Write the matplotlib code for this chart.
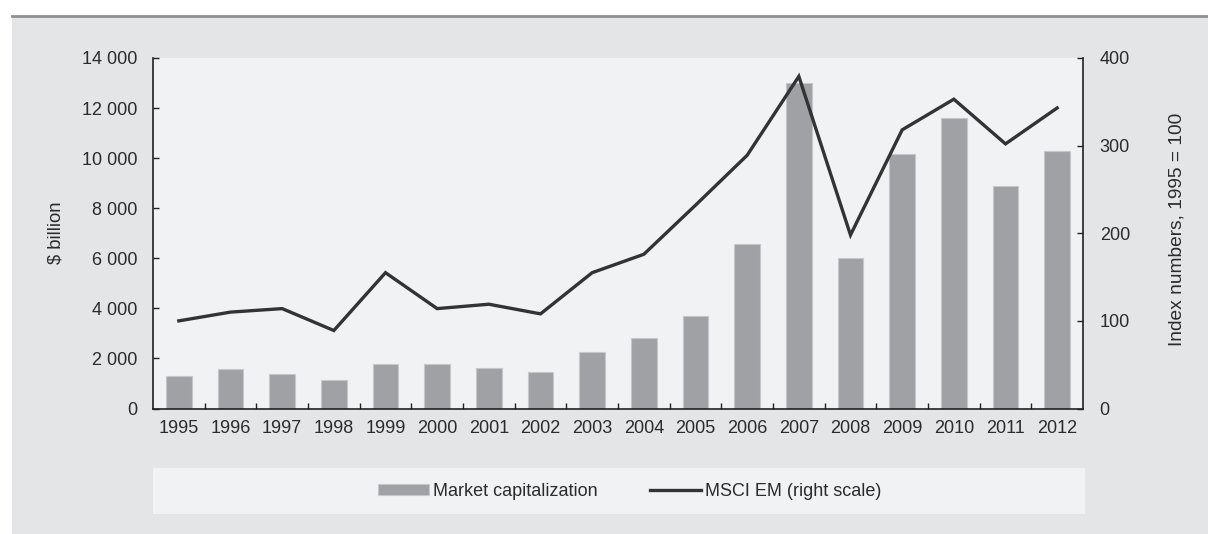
import matplotlib
matplotlib.use("Agg")
import matplotlib.pyplot as plt
from matplotlib.patches import Rectangle
from matplotlib.lines import Line2D
from matplotlib.ticker import FuncFormatter, MultipleLocator

years = [1995, 1996, 1997, 1998, 1999, 2000, 2001, 2002, 2003,
         2004, 2005, 2006, 2007, 2008, 2009, 2010, 2011, 2012]
market_cap = [1310, 1570, 1390, 1150, 1790, 1790, 1630, 1470, 2270,
              2830, 3710, 6580, 13000, 6030, 10180, 11620, 8900, 10270]
msci_em = [100, 110, 114, 89, 155, 114, 119, 108, 155,
           176, 232, 289, 379, 198, 318, 353, 302, 343]

W, H = 1208, 534
BG = "#e4e5e7"
PANEL = "#f1f2f4"
BAR = "#a0a1a4"
LINE = "#333333"
TXT = "#2b2b2b"

plt.rcParams["font.family"] = ["Liberation Sans", "DejaVu Sans"]
plt.rcParams["font.size"] = 13

fig = plt.figure(figsize=(W / 100, H / 100), dpi=100)
fig.patch.set_facecolor("white")


def px_rect(x0, y0, x1, y1, color, z=0):
    # pixel box (top-left origin) -> figure fraction
    fig.add_artist(Rectangle((x0 / W, 1 - y1 / H), (x1 - x0) / W, (y1 - y0) / H,
                             transform=fig.transFigure, facecolor=color,
                             edgecolor="none", zorder=z))


px_rect(12, 16, W, H, BG)
fig.add_artist(Line2D([12 / W, 1], [1 - 16 / H, 1 - 16 / H], transform=fig.transFigure,
                      color="#8e8e8e", lw=2))
px_rect(153, 468, 1085, 514, PANEL)

ax = fig.add_axes([153 / W, 1 - 408.5 / H, 930 / W, 350.5 / H])
ax.set_facecolor(PANEL)
x = list(range(len(years)))
bars = ax.bar(x, market_cap, width=0.5, color=BAR, edgecolor="#c6c7c9", linewidth=0.8,
              label="Market capitalization", zorder=2)
ax.set_xlim(-0.5, len(years) - 0.5)
ax.set_ylim(0, 14000)
ax.yaxis.set_major_locator(MultipleLocator(2000))
ax.yaxis.set_major_formatter(FuncFormatter(lambda v, p: f"{int(v):,}".replace(",", " ")))
ax.set_xticks(x)
ax.set_xticklabels([str(y) for y in years])
ax.set_xticks([i + 0.5 for i in range(len(years) - 1)], minor=True)
ax.tick_params(axis="x", which="major", length=0, pad=8, colors=TXT)
ax.tick_params(axis="x", which="minor", direction="in", length=4, width=1, color="#222222")
ax.tick_params(axis="y", direction="in", length=4, width=1, pad=11, colors=TXT)
ax.tick_params(axis="y", color="#222222")
for s in ["top", "right"]:
    ax.spines[s].set_visible(False)
for s in ["left", "bottom"]:
    ax.spines[s].set_color("#222222")
    ax.spines[s].set_linewidth(1.2)

ax2 = ax.twinx()
ax2.patch.set_visible(False)
line, = ax2.plot(x, msci_em, color=LINE, lw=2.4, solid_joinstyle="miter",
                 label="MSCI EM (right scale)", zorder=3)
ax2.set_ylim(0, 400)
ax2.yaxis.set_major_locator(MultipleLocator(100))
ax2.tick_params(axis="y", direction="in", length=4, width=1, pad=12, colors=TXT)
ax2.tick_params(axis="y", color="#222222")
for s in ["top", "left", "bottom"]:
    ax2.spines[s].set_visible(False)
ax2.spines["right"].set_color("#222222")
ax2.spines["right"].set_linewidth(1.2)

fig.text(56 / W, 1 - 233 / H, "$ billion", rotation=90, ha="center", va="center",
         color=TXT, fontsize=13.3)
fig.text(1177 / W, 1 - 229 / H, "Index numbers, 1995 = 100", rotation=90,
         ha="center", va="center", color=TXT, fontsize=13.8)

leg = fig.legend([bars, line], ["Market capitalization", "MSCI EM (right scale)"],
                 loc="center left", bbox_to_anchor=(378 / W, 1 - 491 / H), ncol=2,
                 frameon=False, borderpad=0, borderaxespad=0, handlelength=2.8,
                 handleheight=0.55, handletextpad=0.25, columnspacing=2.9)
for t in leg.get_texts():
    t.set_color(TXT)

fig.savefig("out.png", dpi=100, facecolor=fig.get_facecolor())
